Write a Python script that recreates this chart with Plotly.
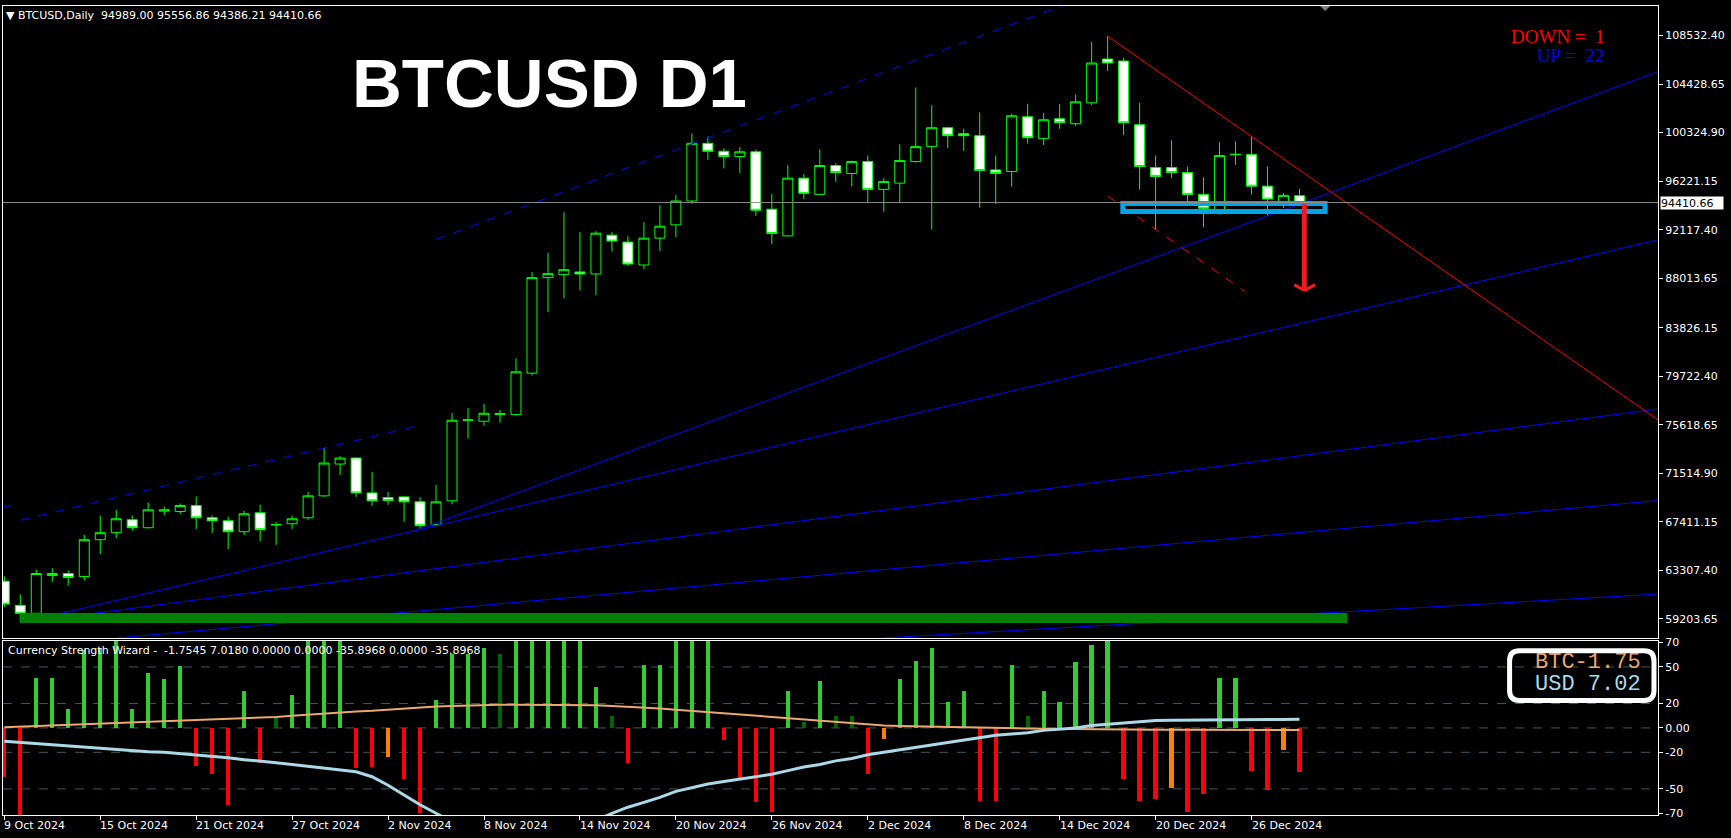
import numpy as np
import pandas as pd
import plotly.graph_objects as go

# ---------------- DATA ----------------
START = "2024-10-09"
N = 82
dates = pd.date_range(START, periods=N, freq="D")

open_ = [62400, 60356, 59683, 62880, 63048, 62796, 65909, 66498, 67591, 66918,
         68322, 68290, 68795, 67760, 67507, 66582, 68180, 67150, 67256, 67760,
         69611, 72302, 72807, 69863, 69467, 69526, 69106, 67170, 69190, 76005,
         75921, 76482, 76482, 79987, 88064, 88316, 88540, 88372, 91654, 91065,
         89130, 91401, 92523, 94542, 99417, 98745, 98300, 98700, 93849, 91592,
         96472, 95101, 97541, 96867, 97877, 95522, 96052, 97877, 99139, 100737,
         100232, 100064, 97170, 97036, 101663, 99812, 101495, 101074, 102840, 106542,
         106374, 100990, 97373, 97373, 96952, 95101, 93806, 98494, 98465, 95796,
         94454, 94989.00]
high = [62820, 61282, 63385, 63494, 63300, 66329, 67953, 68433, 67953, 69047,
        68710, 68963, 69552, 67953, 67846, 68349, 68853, 67389, 67953, 69947,
        73676, 72975, 72891, 71629, 69947, 69590, 69526, 70536, 76619, 77039,
        77375, 76870, 81246, 88540, 90163, 93589, 91931, 91989, 91906, 91570,
        92747, 94177, 95047, 100258, 100000, 99000, 99100, 98900, 95127, 97568,
        96809, 98913, 97736, 97961, 98381, 96472, 99334, 104130, 102633, 100821,
        100653, 102019, 98381, 101915, 102757, 101999, 102757, 103541, 107999, 108475,
        106651, 102840, 98381, 99669, 97457, 96556, 99501, 99585, 99946, 97457,
        95211, 95556.86]
low = [60210, 58892, 59599, 62342, 62039, 62459, 64697, 66043, 66666, 66860,
       67978, 68062, 66800, 66464, 65118, 66296, 65791, 65454, 66800, 67591,
       69526, 71377, 69526, 68769, 68853, 67424, 66800, 67087, 68903, 74457,
       75550, 75803, 76426, 79790, 85141, 86319, 86992, 86571, 90274, 89046,
       88793, 90308, 91486, 94300, 98000, 97300, 96900, 93300, 90897, 91561,
       94706, 95090, 96162, 95763, 94427, 93637, 94427, 97793, 92124, 99021,
       98769, 93973, 94309, 95763, 99391, 99273, 100653, 100872, 102640, 105533,
       100114, 95510, 92124, 96472, 94510, 92326, 93386, 97591, 95090, 93301,
       93950, 94386.21]
close = [60465, 59683, 63048, 63048, 62712, 65909, 66498, 67676, 66918, 68433,
         68433, 68795, 67760, 67507, 66582, 68097, 66750, 67190, 67676, 69611,
         72387, 72807, 69863, 69190, 69215, 69106, 67087, 69106, 76005, 76030,
         76594, 76566, 80099, 88064, 88400, 88737, 88372, 91822, 91149, 89214,
         91401, 92411, 94542, 99417, 98745, 98300, 98700, 93759, 91796, 96472,
         95190, 97541, 96952, 97877, 95522, 96194, 97961, 99139, 100737, 100064,
         100064, 97120, 96867, 101747, 99896, 101410, 101158, 102925, 106206, 106206,
         101158, 97457, 96616, 96952, 95101, 93923, 98381, 98465, 95796, 94706,
         95017, 94410.66]

# Currency Strength Wizard buffers
hist = [-40, -75, 41, 41, 16, 64, 66, 80, 16, 45,
        40, 51, -31, -38, -63, 30, -29, 10, 27, 80,
        80, 80, -33, -32, -24, -42, -70, 23, 61, 61,
        66, 61, 80, 80, 80, 80, 80, 34, 10, -29,
        52, 52, 80, 80, 80, -10, -42, -61, -69, 30,
        5, 39, 10, 10, -38, -9, 40, 55, 66, 21,
        30, -60, -60, 52, 10, 30, 21, 54, 68, 80,
        -42, -60, -58, -49, -69, -54, 41, 41, -35, -51,
        -18, -35.8968]
hist_strong = [1, 1, 1, 1, 1, 1, 1, 1, 1, 1,
               1, 1, 1, 1, 1, 1, 1, 0, 1, 1,
               1, 1, 1, 1, 0, 1, 1, 1, 1, 1,
               1, 0, 1, 1, 1, 1, 1, 1, 0, 1,
               1, 1, 1, 1, 1, 1, 1, 1, 1, 1,
               0, 1, 0, 0, 1, 0, 1, 1, 1, 1,
               1, 1, 1, 1, 0, 1, 1, 1, 1, 1,
               1, 1, 1, 0, 1, 1, 1, 1, 1, 1,
               0, 1]
btc_strength = [0.5, 1, 1.5, 2, 2.3, 2.6, 3, 3.5, 4, 4.5,
                5, 5.5, 6, 6.5, 7, 7.5, 8, 9, 10, 11,
                12, 13, 13.5, 14, 15, 16, 17, 17.5, 18, 18.5,
                19, 19, 19, 19, 19, 19, 19, 18.5, 18, 17.5,
                17, 16, 15, 14, 12.5, 11.5, 10.5, 10, 9, 8,
                7, 5.5, 4.5, 3.5, 2.5, 2, 1.5, 1.2, 1, 0.8,
                0.5, 0.3, 0, -0.2, -0.4, -0.6, -0.8, -1, -1.1, -1.2,
                -1.3, -1.4, -1.5, -1.55, -1.6, -1.6, -1.65, -1.7, -1.7, -1.72,
                -1.74, -1.7545]
usd_strength = [-11, -12, -13, -14, -15, -16, -17, -18, -19, -19.5,
                -20, -21, -22, -23, -24.5, -26, -27, -28.5, -30, -31.5,
                -33, -34.5, -36, -40, -47, -55, -63, -70, -77, -82,
                -86, -89, -91, -92, -91, -88, -83, -76, -70, -65,
                -61, -57, -52, -49, -46, -44, -42, -40, -38, -35,
                -32, -30, -27, -25, -22, -20, -18, -16, -14, -12,
                -10, -8, -6, -5, -4, -2, -1, 0, 2, 3,
                4.5, 5.5, 6, 6.3, 6.5, 6.5, 6.8, 7, 7.1, 7.0,
                7.0, 7.018]

price_ticks = [108532.40, 104428.65, 100324.90, 96221.15, 92117.40, 88013.65,
               83826.15, 79722.40, 75618.65, 71514.90, 67411.15, 63307.40, 59203.65]
ind_ticks = [70, 50, 20, 0, -20, -50, -70]
ind_tick_text = ["70", "50", "20", "0.00", "-20", "-50", "-70"]
ind_levels = [50, 20, 0, -20, -50]
date_label_idx = [0, 6, 12, 18, 24, 30, 36, 42, 48, 54, 60, 66, 72, 78]
strength_names = ["BTC", "USD"]
strength_values = [-1.75, 7.02]

# drawing objects anchored in (bar index, price)
blue_solid_lines = [(25.5, 66570, 103.42, 105478),
                    (1.0, 58867, 103.42, 91259),
                    (1.0, 58867, 103.42, 76956),
                    (7.1, 57605, 103.42, 69216),
                    (55.0, 57605, 103.42, 61307)]
blue_dashed_lines = [(27.0, 91290, 103.42, 129867),
                     (1.0, 67558, 26.0, 75576),
                     (-0.1, 68660, 0.95, 68963)]
red_solid_lines = [(69.0, 108475, 103.42, 76041)]
red_dashed_lines = [(69.0, 94960, 77.6, 86884)]
support_box = (69.95, 94330, 82.6, 93657)
base_zone = (1.0, 59708, 84.0, 58867)
arrow_shaft = (81.3, 94274, 86968)
arrow_head = (80.67, 81.98, 87473)

last_price = 94410.66
X_LEFT, X_RIGHT = -0.081, 103.42
Y_MAIN = (57605, 111028)
Y_IND = (-71.4, 71.4)

# ---------------- FIGURE ----------------
t0 = pd.Timestamp(START)


def d(i):
    return (t0 + pd.Timedelta(days=float(i))).strftime("%Y-%m-%d %H:%M:%S")


W, H = 1731, 838
ML, MR, MT, MB = 2, 73, 2, 23
PW, PH = W - ML - MR, H - MT - MB


def px_x(px):
    return (px - ML) / PW


def px_y(py):
    return (H - MB - py) / PH


fig = go.Figure()
fig.add_trace(go.Candlestick(
    x=dates, open=open_, high=high, low=low, close=close,
    increasing=dict(line=dict(color="#00FF00", width=1), fillcolor="#000000"),
    decreasing=dict(line=dict(color="#00FF00", width=1), fillcolor="#FFFFFF"),
    whiskerwidth=0, hoverinfo="skip", showlegend=False, xaxis="x", yaxis="y"))

bar_colors = []
for v, s in zip(hist, hist_strong):
    if v >= 0:
        bar_colors.append("#32CD32" if s else "#006400")
    else:
        bar_colors.append("#FF0000" if s else "#FF7F00")
fig.add_trace(go.Bar(x=dates, y=hist, marker=dict(color=bar_colors, line=dict(width=0)),
                     width=0.27 * 86400000, xaxis="x2", yaxis="y2", hoverinfo="skip"))
BTC_COL, USD_COL = "#E9A86F", "#ADD8E6"
fig.add_trace(go.Scatter(x=dates, y=btc_strength, mode="lines",
                         line=dict(color=BTC_COL, width=2), xaxis="x2", yaxis="y2", hoverinfo="skip"))
fig.add_trace(go.Scatter(x=dates, y=usd_strength, mode="lines",
                         line=dict(color=USD_COL, width=3), xaxis="x2", yaxis="y2", hoverinfo="skip"))

shapes = []
for x0, y0, x1, y1 in blue_solid_lines:
    shapes.append(dict(type="line", xref="x", yref="y", x0=d(x0), y0=y0, x1=d(x1), y1=y1,
                       line=dict(color="#0000FF", width=1)))
for x0, y0, x1, y1 in blue_dashed_lines:
    shapes.append(dict(type="line", xref="x", yref="y", x0=d(x0), y0=y0, x1=d(x1), y1=y1,
                       line=dict(color="#0000FF", width=1, dash="dash")))
for x0, y0, x1, y1 in red_solid_lines:
    shapes.append(dict(type="line", xref="x", yref="y", x0=d(x0), y0=y0, x1=d(x1), y1=y1,
                       line=dict(color="#FF0000", width=1)))
for x0, y0, x1, y1 in red_dashed_lines:
    shapes.append(dict(type="line", xref="x", yref="y", x0=d(x0), y0=y0, x1=d(x1), y1=y1,
                       line=dict(color="#FF0000", width=1, dash="dash")))
bx0, by0, bx1, by1 = base_zone
shapes.append(dict(type="rect", xref="x", yref="y", x0=d(bx0), y0=by0, x1=d(bx1), y1=by1,
                   fillcolor="#008000", line=dict(width=0)))
sx0, sy0, sx1, sy1 = support_box
shapes.append(dict(type="rect", xref="x", yref="y", x0=d(sx0), y0=sy0, x1=d(sx1), y1=sy1,
                   line=dict(color="#00A2E8", width=5)))
ax, ay0, ay1 = arrow_shaft
shapes.append(dict(type="line", xref="x", yref="y", x0=d(ax), y0=ay0, x1=d(ax), y1=ay1,
                   line=dict(color="#ED1C24", width=5)))
hx0, hx1, hy = arrow_head
shapes.append(dict(type="line", xref="x", yref="y", x0=d(hx0), y0=hy, x1=d(ax), y1=ay1,
                   line=dict(color="#ED1C24", width=3)))
shapes.append(dict(type="line", xref="x", yref="y", x0=d(hx1), y0=hy, x1=d(ax), y1=ay1,
                   line=dict(color="#ED1C24", width=3)))
shapes.append(dict(type="line", xref="paper", yref="y", x0=0, x1=1, y0=last_price, y1=last_price,
                   line=dict(color="#8C8C8C", width=1)))
for lv in ind_levels:
    shapes.append(dict(type="line", xref="paper", yref="y2", x0=0, x1=1, y0=lv, y1=lv,
                       line=dict(color="#3C5A5A", width=1, dash="dash"), layer="below"))

# rounded legend frame (pixel geometry -> paper)
lx0, lx1, ly0, ly1, r = 1509.5, 1654.0, 650.0, 700.0, 10.0
path = (f"M {px_x(lx0 + r)},{px_y(ly0)} L {px_x(lx1 - r)},{px_y(ly0)} "
        f"Q {px_x(lx1)},{px_y(ly0)} {px_x(lx1)},{px_y(ly0 + r)} "
        f"L {px_x(lx1)},{px_y(ly1 - r)} Q {px_x(lx1)},{px_y(ly1)} {px_x(lx1 - r)},{px_y(ly1)} "
        f"L {px_x(lx0 + r)},{px_y(ly1)} Q {px_x(lx0)},{px_y(ly1)} {px_x(lx0)},{px_y(ly1 - r)} "
        f"L {px_x(lx0)},{px_y(ly0 + r)} Q {px_x(lx0)},{px_y(ly0)} {px_x(lx0 + r)},{px_y(ly0)} Z")
shapes.append(dict(type="path", xref="paper", yref="paper", path=path,
                   line=dict(color="white", width=5)))
# chart shift marker
shapes.append(dict(type="path", xref="paper", yref="paper",
                   path=f"M {px_x(1320)},{px_y(2)} L {px_x(1330)},{px_y(2)} L {px_x(1325)},{px_y(7)} Z",
                   fillcolor="#808080", line=dict(width=0)))

ann = []
FONT = "Liberation Sans, Arial, sans-serif"
SMALL = "DejaVu Sans, Verdana, sans-serif"
MONO = "Liberation Mono, DejaVu Sans Mono, monospace"
for i in date_label_idx:
    ann.append(dict(xref="x2", yref="paper", x=d(i), y=px_y(826), xanchor="left", yanchor="middle",
                    text=dates[i].strftime("%-d %b %Y"), showarrow=False, xshift=-2,
                    font=dict(family=SMALL, size=11, color="white")))
ann.append(dict(xref="paper", yref="paper", x=px_x(3), y=px_y(12), xanchor="left", yanchor="middle",
                text="\u25bc BTCUSD,Daily\u00a0\u00a094989.00 95556.86 94386.21 94410.66", showarrow=False,
                font=dict(family=SMALL, size=11, color="white")))
ann.append(dict(xref="paper", yref="paper", x=px_x(5), y=px_y(650), xanchor="left", yanchor="middle",
                text="Currency Strength Wizard -\u00a0\u00a0-1.7545 7.0180 0.0000 0.0000 -35.8968 0.0000 -35.8968",
                showarrow=False, font=dict(family=SMALL, size=11, color="white")))
ann.append(dict(xref="paper", yref="paper", x=px_x(349), y=px_y(80), xanchor="left", yanchor="middle",
                text="<b>BTCUSD D1</b>", showarrow=False,
                font=dict(family=FONT, size=69, color="white")))
ann.append(dict(xref="paper", yref="paper", x=px_x(1607), y=px_y(33), xanchor="right", yanchor="middle",
                text="DOWN =\u00a0\u00a01", showarrow=False,
                font=dict(family="Liberation Serif, Times New Roman, serif", size=19, color="#FF0000")))
ann.append(dict(xref="paper", yref="paper", x=px_x(1607), y=px_y(52), xanchor="right", yanchor="middle",
                text="UP =\u00a0\u00a022", showarrow=False,
                font=dict(family="Liberation Serif, Times New Roman, serif", size=19, color="#0000FF")))
ann.append(dict(xref="paper", yref="y", x=1, y=last_price, xanchor="left", yanchor="middle",
                text="94410.66", showarrow=False, bgcolor="white", borderpad=0, xshift=2,
                width=62, height=12, align="left", font=dict(family=SMALL, size=11, color="black")))
# strength read-out box (monospace, name immediately followed by value)
for name, val, col, cy in zip(strength_names, strength_values, [BTC_COL, USD_COL], [661, 683]):
    sep = "" if val < 0 else "\u00a0"
    ann.append(dict(xref="paper", yref="paper", x=px_x(1643), y=px_y(cy), xanchor="right",
                    yanchor="middle", text=f"{name}{sep}{val:.2f}", showarrow=False, height=20,
                    font=dict(family=MONO, size=22, color=col)))

axis_common = dict(showline=True, mirror=True, linecolor="white", linewidth=1, showgrid=False,
                   zeroline=False)
main_bottom = px_y(637)
ind_top = px_y(640)
fig.update_layout(
    width=W, height=H, paper_bgcolor="black", plot_bgcolor="black",
    margin=dict(l=ML, r=MR, t=MT, b=MB), showlegend=False,
    boxgap=0.375, boxgroupgap=0, bargap=0,
    xaxis=dict(type="date", range=[d(X_LEFT), d(X_RIGHT)], domain=[0, 1], anchor="y",
               rangeslider=dict(visible=False), showticklabels=False, ticks="", **axis_common),
    yaxis=dict(domain=[main_bottom, 1], range=list(Y_MAIN), side="right", anchor="x",
               tickvals=price_ticks, ticktext=[f"{v:.2f}" for v in price_ticks],
               ticks="outside", ticklen=4, tickcolor="white",
               tickfont=dict(family=SMALL, size=11, color="white"), **axis_common),
    xaxis2=dict(type="date", matches="x", domain=[0, 1], anchor="y2", showticklabels=False,
                tickvals=[d(i) for i in date_label_idx], ticks="outside", ticklen=4,
                tickcolor="white", **axis_common),
    yaxis2=dict(domain=[0, ind_top], range=list(Y_IND), side="right", anchor="x2",
                tickvals=ind_ticks, ticktext=ind_tick_text, ticks="outside", ticklen=4,
                tickcolor="white", tickfont=dict(family=SMALL, size=11, color="white"), **axis_common),
    shapes=shapes, annotations=ann,
)
fig.write_html("out.html", config={"displayModeBar": False},
               post_script="document.body.style.margin='0';document.body.style.background='black';")
